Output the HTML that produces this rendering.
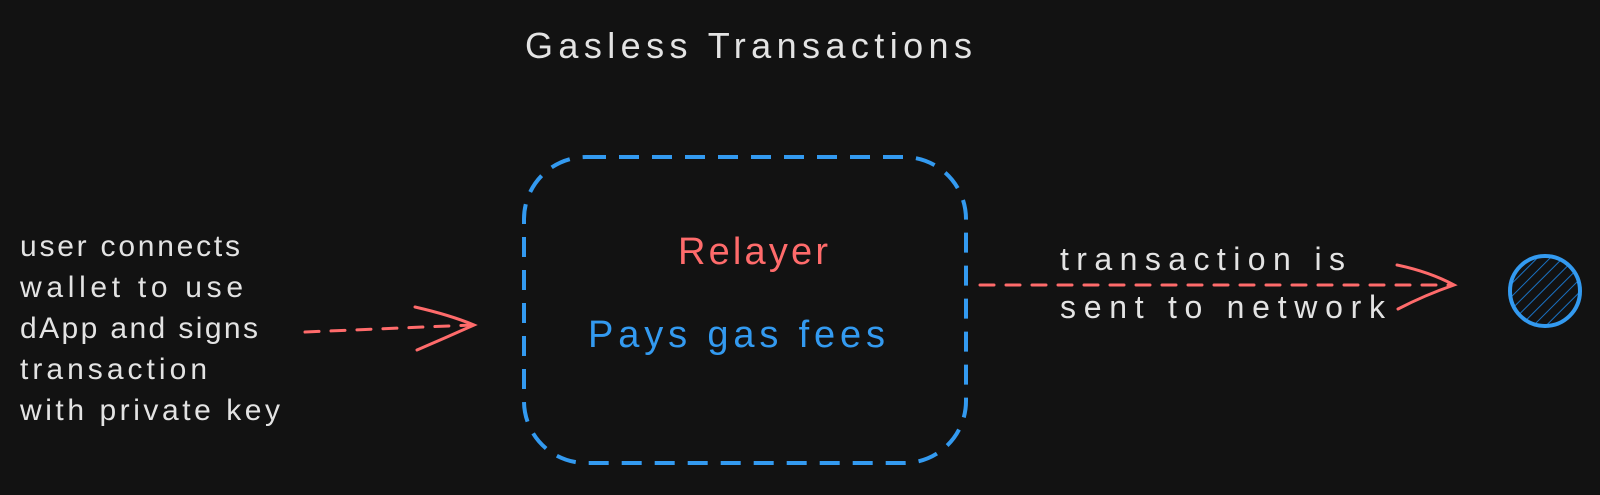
<!DOCTYPE html>
<html><head><style>
html,body{margin:0;padding:0;background:#121212;}
svg{display:block}
text{font-family:"Liberation Sans",sans-serif;}
</style></head><body>
<svg width="1600" height="495" viewBox="0 0 1600 495" xmlns="http://www.w3.org/2000/svg">
<defs>
<pattern id="h" width="9" height="9" patternUnits="userSpaceOnUse" patternTransform="rotate(45)">
<line x1="0" y1="0" x2="0" y2="9" stroke="#1971c2" stroke-width="2"/>
</pattern>
</defs>
<rect width="1600" height="495" fill="#121212"/>
<text x="525" y="58" font-size="36" fill="#e3e3e3" textLength="447" lengthAdjust="spacing">Gasless Transactions</text>
<rect x="524" y="157" width="442" height="306" rx="62" fill="none" stroke="#339af0" stroke-width="4" stroke-dasharray="20 13"/>
<text x="678" y="264" font-size="38" fill="#ff6b6b" textLength="150" lengthAdjust="spacing">Relayer</text>
<text x="588" y="347" font-size="38" fill="#339af0" textLength="297" lengthAdjust="spacing">Pays gas fees</text>
<g font-size="30" fill="#e3e3e3">
<text x="20" y="256" textLength="220" lengthAdjust="spacing">user connects</text>
<text x="20" y="297" textLength="223" lengthAdjust="spacing">wallet to use</text>
<text x="20" y="338" textLength="238" lengthAdjust="spacing">dApp and signs</text>
<text x="20" y="379" textLength="187" lengthAdjust="spacing">transaction</text>
<text x="20" y="420" textLength="260" lengthAdjust="spacing">with private key</text>
</g>
<g stroke="#ff6b6b" stroke-width="3" fill="none" stroke-linecap="round">
<line x1="305" y1="332" x2="472" y2="325" stroke-dasharray="14 12"/>
<path d="M415 307 Q450 315 474 325 Q445 338 417 350"/>
<line x1="980" y1="285" x2="1452" y2="285" stroke-dasharray="14 12"/>
<path d="M1397 265 Q1430 272 1454 285 Q1425 295 1398 309"/>
</g>
<g font-size="32" fill="#e3e3e3">
<text x="1060" y="270" textLength="285" lengthAdjust="spacing">transaction is</text>
<text x="1060" y="318" textLength="325" lengthAdjust="spacing">sent to network</text>
</g>
<circle cx="1545" cy="291" r="35" fill="url(#h)" stroke="#339af0" stroke-width="4"/>
</svg>
</body></html>
